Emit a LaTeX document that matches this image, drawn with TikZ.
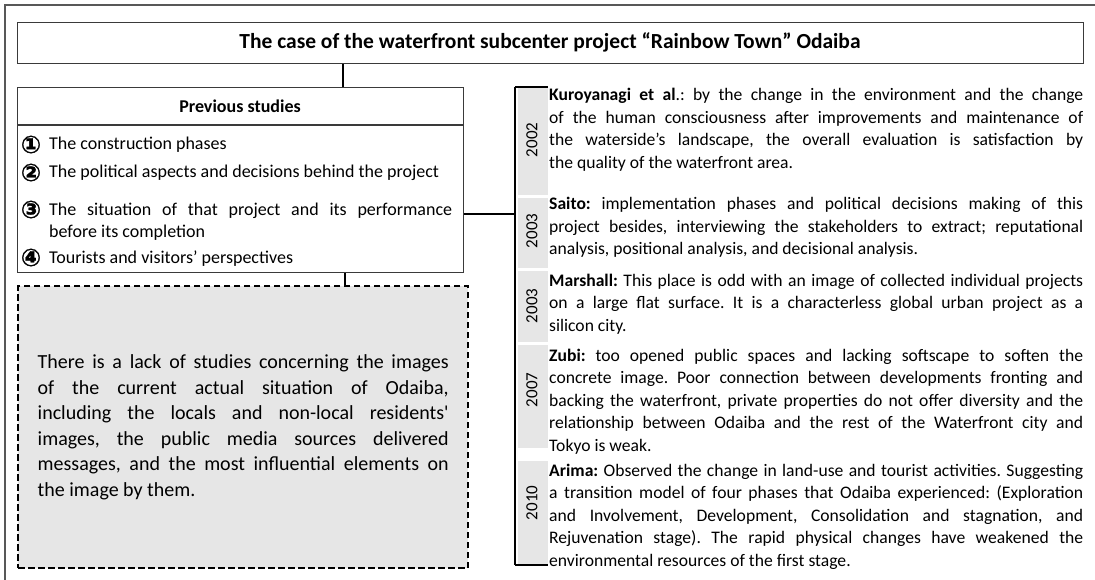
\documentclass[tikz,border=0pt]{standalone}
\usepackage{fontspec}
\setmainfont{Carlito}
\newfontfamily\circfont{DejaVu Sans}[FakeBold=1.2]
\usetikzlibrary{calc}

\definecolor{cellgray}{HTML}{E6E6E6}
\definecolor{boxline}{HTML}{3A3A3A}

\begin{document}
\frenchspacing
\begin{tikzpicture}[x=1pt,y=-1pt,
  frame/.style={draw=boxline!85, line width=1.4pt},
  plainbox/.style={draw=boxline, line width=1.4pt, inner sep=0pt, anchor=north west},
  gapbox/.style={draw=black, fill=cellgray, line width=2.4pt, dash pattern=on 6.5pt off 3.5pt, inner sep=0pt, anchor=north west},
  conn/.style={draw=black, line width=2.6pt},
  tick/.style={draw=black, line width=2pt},
  yearcell/.style={fill=cellgray, draw=none, inner sep=0pt, anchor=north west, minimum width=30pt},
  yearlabel/.style={rotate=90, inner sep=0pt, font=\fontsize{17}{17}\selectfont},
  entry/.style={anchor=base west, inner sep=0pt, text width=534pt, align=justify,
    font=\fontsize{17.6}{22.5}\selectfont},
  item/.style={anchor=base west, inner sep=0pt, font=\fontsize{18}{22}\selectfont},
  numlabel/.style={anchor=center, inner sep=0pt, font=\circfont\bfseries\fontsize{24}{24}\selectfont}
]
\useasboundingbox (0,0) rectangle (1095,580);

% outer frame (open to the right and bottom)
\draw[frame] (5,580) -- (5,5) -- (1095,5);

% title bar
\node[plainbox, minimum width=1066pt, minimum height=41pt] (title) at (17,22) {};
\node[anchor=base, inner sep=0pt, font=\bfseries\fontsize{21.5}{22}\selectfont]
  (titletext) at (550,49) {The case of the waterfront subcenter project “Rainbow Town” Odaiba};

% previous studies box
\node[plainbox, minimum width=446pt, minimum height=185pt] (prev) at (17,87) {};
\draw[draw=boxline, line width=1.4pt] (prev.west |- 0,125) -- (prev.east |- 0,125);
\node[anchor=base, inner sep=0pt, font=\bfseries\fontsize{18}{20}\selectfont]
  (prevhead) at (240,113) {Previous studies};

\node[numlabel] (n1) at (31,144.5) {①};
\node[item] (i1) at (49,150) {The construction phases};
\node[numlabel] (n2) at (31,172.5) {②};
\node[item] (i2) at (49,178) {The political aspects and decisions behind the project};
\node[numlabel] (n3) at (31,209.5) {③};
\node[item, text width=403pt, align=justify, font=\fontsize{18}{22.5}\selectfont] (i3) at (49,215)
  {The situation of that project and its performance\linebreak before its completion};
\node[numlabel] (n4) at (31,257.5) {④};
\node[item] (i4) at (49,263) {Tourists and visitors’ perspectives};

% research gap box
\node[gapbox, minimum width=450pt, minimum height=282pt] (gap) at (17,285) {};
\node[inner sep=0pt, text width=411pt, align=justify, font=\fontsize{20}{25.5}\selectfont]
  (gaptext) at (gap.center) {There is a lack of studies concerning the images\linebreak
  of the current actual situation of Odaiba,\linebreak
  including the locals and non-local residents\textquotesingle\linebreak
  images, the public media sources delivered\linebreak
  messages, and the most influential elements on\linebreak
  the image by them.};

% timeline spine and year cells
\coordinate (spinetop) at (515,87);
\coordinate (spinebot) at (515,565);
\coordinate (tlink) at (343,0);
\coordinate (glink) at (345,0);

\node[yearcell, minimum height=108pt] (c1) at (518,87) {};
\node[yearcell, minimum height=70pt]  (c2) at (518,198) {};
\node[yearcell, minimum height=71pt]  (c3) at (518,271) {};
\node[yearcell, minimum height=103pt] (c4) at (518,345) {};
\node[yearcell, minimum height=104pt] (c5) at (518,461) {};

\node[yearlabel] (y1) at (532,140) {2002};
\node[yearlabel] (y2) at (532,231) {2003};
\node[yearlabel] (y3) at (532,306) {2003};
\node[yearlabel] (y4) at (532,390) {2007};
\node[yearlabel] (y5) at (532,503) {2010};

\draw[conn] (spinetop) -- (spinebot);
\draw[tick] (spinetop) -- (c1.north east);
\draw[tick] (spinebot) -- (spinebot -| c5.east);

% connectors
\draw[conn] (title.south -| tlink) -- (prev.north -| tlink);
\draw[conn] (prev.south -| glink) -- (gap.north -| glink);
\draw[conn] (prev.east |- 0,214) -- (spinetop |- 0,214);

% literature entries
\node[entry] (e1) at (549,101) {\textbf{Kuroyanagi et al}.: by the change in the environment and the change\linebreak
  of the human consciousness after improvements and maintenance of\linebreak
  the waterside’s landscape, the overall evaluation is satisfaction by\linebreak
  the quality of the waterfront area.};
\node[entry] (e2) at (549,210) {\textbf{Saito:} implementation phases and political decisions making of this\linebreak
  project besides, interviewing the stakeholders to extract; reputational\linebreak
  analysis, positional analysis, and decisional analysis.};
\node[entry] (e3) at (549,286) {\textbf{Marshall:} This place is odd with an image of collected individual projects\linebreak
  on a large flat surface. It is a characterless global urban project as a\linebreak
  silicon city.};
\node[entry] (e4) at (549,361) {\textbf{Zubi:} too opened public spaces and lacking softscape to soften the\linebreak
  concrete image. Poor connection between developments fronting and\linebreak
  backing the waterfront, private properties do not offer diversity and the\linebreak
  relationship between Odaiba and the rest of the Waterfront city and\linebreak
  Tokyo is weak.};
\node[entry] (e5) at (549,476) {\textbf{Arima:} Observed the change in land-use and tourist activities. Suggesting\linebreak
  a transition model of four phases that Odaiba experienced: (Exploration\linebreak
  and Involvement, Development, Consolidation and stagnation, and\linebreak
  Rejuvenation stage). The rapid physical changes have weakened the\linebreak
  environmental resources of the first stage.};
\end{tikzpicture}
\end{document}
